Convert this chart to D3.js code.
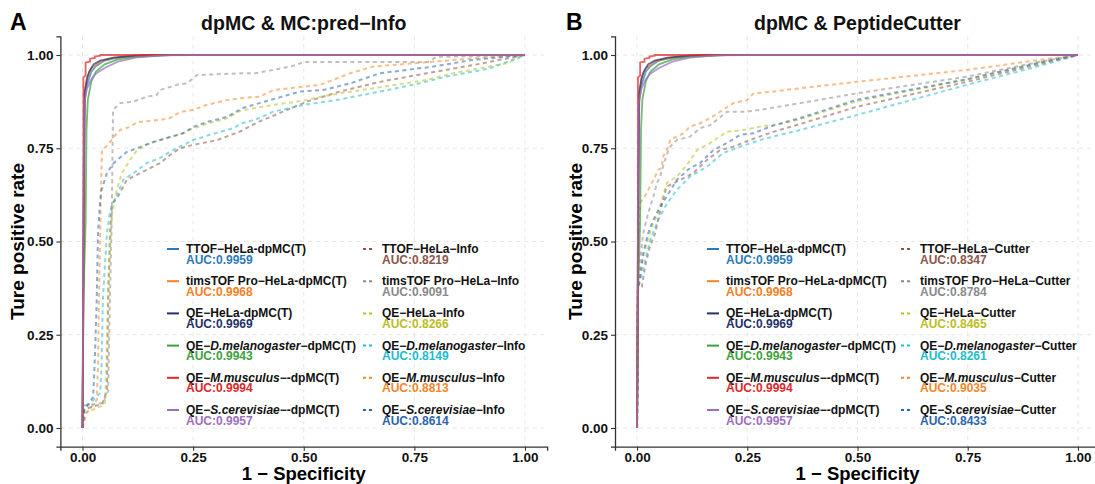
<!DOCTYPE html>
<html>
<head>
<meta charset="utf-8">
<script src="https://cdn.jsdelivr.net/npm/d3@7"></script>
<style>
  html, body { margin: 0; padding: 0; background: #fff; }
  svg { display: block; font-family: "Liberation Sans", Arial, sans-serif; }
</style>
</head>
<body>
<svg id="chart" width="1095" height="484"></svg>
<script>
// ---------- data: ROC curves as [false positive rate, true positive rate] ----------
const tickValues = [0, 0.25, 0.5, 0.75, 1];
const tickLabels = ["0.00", "0.25", "0.50", "0.75", "1.00"];

// dpMC(T) curves (shared by both panels)
const dpmcTTOF = [[0,0],[0.003,0.5],[0.005,0.88],[0.01,0.92],[0.02,0.955],[0.03,0.97],[0.05,0.985],[0.08,0.993],[0.12,0.998],[0.2,1],[1,1]];
const dpmcTims = [[0,0],[0.003,0.6],[0.005,0.9],[0.01,0.94],[0.02,0.965],[0.04,0.982],[0.07,0.992],[0.1,0.997],[0.15,1],[1,1]];
const dpmcQEHeLa = [[0,0],[0.003,0.7],[0.005,0.9],[0.01,0.935],[0.015,0.955],[0.025,0.975],[0.04,0.985],[0.07,0.993],[0.12,0.998],[0.18,1],[1,1]];
const dpmcDmel = [[0,0],[0.002,0.35],[0.007,0.55],[0.009,0.8],[0.012,0.88],[0.02,0.93],[0.03,0.955],[0.05,0.975],[0.08,0.988],[0.12,0.995],[0.2,1],[1,1]];
const dpmcMmus = [[0,0],[0.002,0.4],[0.002,0.94],[0.007,0.945],[0.007,0.98],[0.017,0.982],[0.017,0.99],[0.028,0.992],[0.028,0.996],[0.04,0.998],[0.04,1],[1,1]];
const dpmcScer = [[0,0],[0.002,0.6],[0.004,0.87],[0.01,0.91],[0.02,0.935],[0.03,0.95],[0.05,0.965],[0.08,0.982],[0.12,0.993],[0.18,0.999],[0.25,1],[1,1]];

// MC:pred-Info curves
const infoTTOF = [[0,0],[0.004,0.05],[0.045,0.065],[0.055,0.1],[0.058,0.34],[0.062,0.52],[0.066,0.6],[0.08,0.62],[0.1,0.665],[0.13,0.683],[0.153,0.697],[0.175,0.71],[0.198,0.732],[0.22,0.75],[0.25,0.759],[0.304,0.772],[0.356,0.795],[0.4,0.822],[0.453,0.848],[0.507,0.875],[0.582,0.902],[0.672,0.928],[0.778,0.951],[0.883,0.973],[1,1]];
const infoTims = [[0,0],[0.003,0.06],[0.046,0.067],[0.058,0.1],[0.062,0.35],[0.066,0.56],[0.069,0.853],[0.085,0.871],[0.115,0.875],[0.145,0.888],[0.168,0.893],[0.175,0.906],[0.213,0.92],[0.236,0.924],[0.258,0.946],[0.356,0.951],[0.39,0.951],[0.43,0.96],[0.47,0.969],[0.5,0.981],[0.78,0.981],[0.8,0.995],[0.85,0.996],[1,1]];
const infoQEHeLa = [[0,0],[0.004,0.04],[0.045,0.06],[0.051,0.067],[0.055,0.21],[0.058,0.388],[0.066,0.566],[0.077,0.638],[0.089,0.683],[0.107,0.718],[0.123,0.745],[0.153,0.764],[0.175,0.772],[0.198,0.78],[0.227,0.79],[0.25,0.803],[0.28,0.815],[0.326,0.83],[0.356,0.85],[0.4,0.86],[0.431,0.866],[0.507,0.879],[0.537,0.888],[0.582,0.897],[0.657,0.911],[0.778,0.933],[0.838,0.951],[0.959,0.978],[1,1]];
const infoDmel = [[0,0],[0.004,0.05],[0.04,0.094],[0.043,0.164],[0.046,0.343],[0.055,0.52],[0.062,0.58],[0.073,0.611],[0.092,0.665],[0.115,0.683],[0.145,0.71],[0.175,0.724],[0.205,0.745],[0.25,0.772],[0.288,0.786],[0.341,0.804],[0.356,0.815],[0.4,0.831],[0.431,0.848],[0.5,0.866],[0.582,0.881],[0.672,0.902],[0.747,0.92],[0.823,0.942],[0.92,0.964],[1,1]];
const infoMmus = [[0,0],[0.009,0.04],[0.032,0.075],[0.035,0.164],[0.037,0.343],[0.04,0.52],[0.041,0.611],[0.044,0.745],[0.058,0.759],[0.07,0.78],[0.085,0.799],[0.107,0.807],[0.123,0.82],[0.175,0.826],[0.198,0.831],[0.22,0.847],[0.25,0.853],[0.28,0.866],[0.326,0.879],[0.363,0.885],[0.4,0.888],[0.431,0.906],[0.537,0.92],[0.605,0.951],[0.657,0.969],[0.793,0.982],[0.883,0.991],[1,1]];
const infoScer = [[0,0],[0.004,0.05],[0.024,0.083],[0.028,0.19],[0.032,0.343],[0.035,0.52],[0.04,0.611],[0.043,0.638],[0.055,0.683],[0.07,0.71],[0.1,0.74],[0.123,0.75],[0.153,0.764],[0.175,0.772],[0.198,0.78],[0.227,0.79],[0.25,0.807],[0.28,0.82],[0.326,0.834],[0.363,0.858],[0.4,0.871],[0.491,0.902],[0.544,0.906],[0.605,0.924],[0.672,0.951],[0.793,0.969],[0.883,0.987],[1,1]];

// PeptideCutter curves
const cutTTOF = [[0,0],[0.002,0.37],[0.011,0.379],[0.018,0.432],[0.029,0.486],[0.041,0.522],[0.05,0.57],[0.067,0.647],[0.098,0.665],[0.127,0.683],[0.158,0.718],[0.188,0.745],[0.218,0.754],[0.256,0.772],[0.309,0.794],[0.37,0.815],[0.498,0.861],[0.748,0.928],[0.914,0.976],[1,1]];
const cutTims = [[0,0],[0.002,0.37],[0.003,0.406],[0.014,0.522],[0.025,0.575],[0.037,0.62],[0.045,0.656],[0.052,0.674],[0.067,0.732],[0.075,0.754],[0.09,0.772],[0.12,0.781],[0.143,0.804],[0.166,0.812],[0.204,0.848],[0.249,0.848],[0.279,0.853],[0.324,0.862],[0.37,0.871],[0.498,0.897],[0.748,0.942],[0.914,0.982],[1,1]];
const cutQEHeLa = [[0,0],[0.002,0.37],[0.007,0.424],[0.022,0.496],[0.037,0.55],[0.048,0.576],[0.067,0.656],[0.09,0.674],[0.113,0.705],[0.136,0.745],[0.166,0.764],[0.204,0.794],[0.241,0.799],[0.279,0.808],[0.332,0.817],[0.37,0.828],[0.498,0.876],[0.748,0.934],[0.914,0.979],[1,1]];
const cutDmel = [[0,0],[0.002,0.37],[0.011,0.415],[0.03,0.504],[0.048,0.558],[0.067,0.6],[0.09,0.638],[0.12,0.674],[0.158,0.7],[0.195,0.737],[0.234,0.754],[0.279,0.772],[0.324,0.786],[0.37,0.799],[0.498,0.839],[0.748,0.92],[0.914,0.971],[1,1]];
const cutMmus = [[0,0],[0.002,0.4],[0.003,0.52],[0.007,0.603],[0.022,0.63],[0.037,0.665],[0.048,0.692],[0.056,0.697],[0.059,0.727],[0.071,0.754],[0.075,0.772],[0.09,0.781],[0.105,0.79],[0.12,0.808],[0.143,0.817],[0.166,0.831],[0.195,0.853],[0.218,0.871],[0.249,0.879],[0.264,0.897],[0.309,0.902],[0.37,0.911],[0.498,0.928],[0.748,0.96],[0.914,0.987],[1,1]];
const cutScer = [[0,0],[0.002,0.37],[0.007,0.406],[0.014,0.469],[0.025,0.522],[0.037,0.558],[0.052,0.593],[0.067,0.62],[0.09,0.665],[0.12,0.697],[0.143,0.71],[0.173,0.745],[0.204,0.764],[0.234,0.786],[0.264,0.79],[0.302,0.808],[0.339,0.821],[0.37,0.831],[0.498,0.88],[0.748,0.935],[0.914,0.98],[1,1]];

// legend labels (*...* marks the italic species name) and AUC values
const dpmcLabels = ["TTOF−HeLa-dpMC(T)", "timsTOF Pro−HeLa-dpMC(T)", "QE−HeLa-dpMC(T)",
  "QE−*D.melanogaster*−dpMC(T)", "QE−*M.musculus*−-dpMC(T)", "QE−*S.cerevisiae*−-dpMC(T)"];
const dpmcAUC = ["0.9959", "0.9968", "0.9969", "0.9943", "0.9994", "0.9957"];
const infoLabels = ["TTOF−HeLa−Info", "timsTOF Pro−HeLa−Info", "QE−HeLa−Info",
  "QE−*D.melanogaster*−Info", "QE−*M.musculus*−Info", "QE−*S.cerevisiae*−Info"];
const infoAUC = ["0.8219", "0.9091", "0.8266", "0.8149", "0.8813", "0.8614"];
const cutLabels = ["TTOF−HeLa−Cutter", "timsTOF Pro−HeLa−Cutter", "QE−HeLa−Cutter",
  "QE−*D.melanogaster*−Cutter", "QE−*M.musculus*−Cutter", "QE−*S.cerevisiae*−Cutter"];
const cutAUC = ["0.8347", "0.8784", "0.8465", "0.8261", "0.9035", "0.8433"];

const solidColors = ["#2b7bba", "#f58025", "#25316b", "#3aa23a", "#e0262a", "#9c6fc0"];
const dashColors = ["#8c564b", "#8a8a8a", "#bcbd22", "#22bcd0", "#f5862a", "#2c64ae"];

// ---------- drawing ----------
const svg = d3.select("#chart");
const FONT = '"Liberation Sans", Arial, sans-serif';

function drawPanel(cfg) {
  const g = svg.append("g");
  const x = d3.scaleLinear().domain([-0.05, 1.05]).range([cfg.left, cfg.right]);
  const y = d3.scaleLinear().domain([-0.05, 1.05]).range([cfg.bottom, cfg.top]);

  // dashed major grid
  const grid = g.append("g").attr("stroke", "#e3e3e3").attr("stroke-width", 0.9)
    .attr("stroke-dasharray", "4,4");
  grid.selectAll("line.v").data(tickValues).join("line")
    .attr("x1", d => x(d)).attr("x2", d => x(d))
    .attr("y1", cfg.top).attr("y2", cfg.bottom);
  grid.selectAll("line.h").data(tickValues).join("line")
    .attr("x1", cfg.left).attr("x2", cfg.right)
    .attr("y1", d => y(d)).attr("y2", d => y(d));

  const line = d3.line().x(d => x(d[0])).y(d => y(d[1]));

  // comparison method curves (dashed), then dpMC curves (solid) on top
  g.append("g").selectAll("path").data(cfg.dashed).join("path")
    .attr("d", line).attr("fill", "none")
    .attr("stroke", (d, i) => dashColors[i]).attr("stroke-opacity", 0.55)
    .attr("stroke-width", 2).attr("stroke-dasharray", "4,3.5");
  g.append("g").selectAll("path").data(cfg.solid).join("path")
    .attr("d", line).attr("fill", "none")
    .attr("stroke", (d, i) => solidColors[i]).attr("stroke-opacity", 0.72)
    .attr("stroke-width", 1.8);

  // axes
  const xAxis = d3.axisBottom(x).tickValues(tickValues).tickFormat((d, i) => tickLabels[i])
    .tickSizeOuter(0).tickSize(4).tickPadding(2);
  const yAxis = d3.axisLeft(y).tickValues(tickValues).tickFormat((d, i) => tickLabels[i])
    .tickSizeOuter(0).tickSize(4).tickPadding(3);
  const gx = g.append("g").attr("transform", `translate(0,${cfg.bottom})`).call(xAxis);
  const gy = g.append("g").attr("transform", `translate(${cfg.left},0)`).call(yAxis);
  [gx, gy].forEach(a => {
    a.select(".domain").attr("stroke", "#333").attr("stroke-width", 1.3);
    a.selectAll(".tick line").attr("stroke", "#333").attr("stroke-width", 1.1);
    a.selectAll(".tick text").attr("fill", "#111").attr("font-family", FONT)
      .attr("font-size", 13.5).attr("font-weight", "bold");
  });

  // titles
  const cx = (cfg.left + cfg.right) / 2;
  g.append("text").attr("x", cx).attr("y", 30).attr("text-anchor", "middle")
    .attr("font-size", 19.5).attr("font-weight", "bold").attr("fill", "#111").text(cfg.title);
  g.append("text").attr("x", cfg.tagX).attr("y", 30)
    .attr("font-size", 23).attr("font-weight", "bold").attr("fill", "#000").text(cfg.tag);
  g.append("text").attr("x", cx).attr("y", 480).attr("text-anchor", "middle")
    .attr("font-size", 18.5).attr("font-weight", "bold").attr("fill", "#000").text("1 − Specificity");
  g.append("text").attr("transform", `translate(${cfg.yTitleX},${(cfg.top + cfg.bottom) / 2}) rotate(-90)`)
    .attr("text-anchor", "middle")
    .attr("font-size", 19).attr("font-weight", "bold").attr("fill", "#000").text("Ture positive rate");

  // legend: two columns of six entries
  const cols = [
    { keyX: cfg.legX1, labels: dpmcLabels, auc: dpmcAUC, colors: solidColors, dash: null },
    { keyX: cfg.legX2, labels: cfg.dashLabels, auc: cfg.dashAUC, colors: dashColors, dash: "3,3" }
  ];
  cols.forEach(col => {
    col.labels.forEach((lab, i) => {
      const by = 253 + i * 32.2;
      g.append("line").attr("x1", col.keyX).attr("x2", col.keyX + 12)
        .attr("y1", by - 4).attr("y2", by - 4)
        .attr("stroke", col.colors[i]).attr("stroke-width", 2)
        .attr("stroke-dasharray", col.dash);
      const t = g.append("text").attr("x", col.keyX + 19).attr("y", by)
        .attr("font-size", 12).attr("font-weight", "bold").attr("fill", "#111");
      lab.split("*").forEach((part, k) => {
        t.append("tspan").attr("font-style", k % 2 ? "italic" : "normal").text(part);
      });
      g.append("text").attr("x", col.keyX + 19).attr("y", by + 10.5)
        .attr("font-size", 12).attr("font-weight", "bold").attr("fill", col.colors[i])
        .text("AUC:" + col.auc[i]);
    });
  });
}

const solidSet = [dpmcTTOF, dpmcTims, dpmcQEHeLa, dpmcDmel, dpmcMmus, dpmcScer];

drawPanel({
  left: 60.4, right: 547.1, top: 36.35, bottom: 446.65,
  title: "dpMC & MC:pred−Info", tag: "A", tagX: 10, yTitleX: 24,
  solid: solidSet,
  dashed: [infoTTOF, infoTims, infoQEHeLa, infoDmel, infoMmus, infoScer],
  dashLabels: infoLabels, dashAUC: infoAUC,
  legX1: 167, legX2: 363
});

drawPanel({
  left: 615, right: 1100, top: 36.35, bottom: 446.65,
  title: "dpMC & PeptideCutter", tag: "B", tagX: 566, yTitleX: 582,
  solid: solidSet,
  dashed: [cutTTOF, cutTims, cutQEHeLa, cutDmel, cutMmus, cutScer],
  dashLabels: cutLabels, dashAUC: cutAUC,
  legX1: 707, legX2: 901
});
</script>
</body>
</html>
